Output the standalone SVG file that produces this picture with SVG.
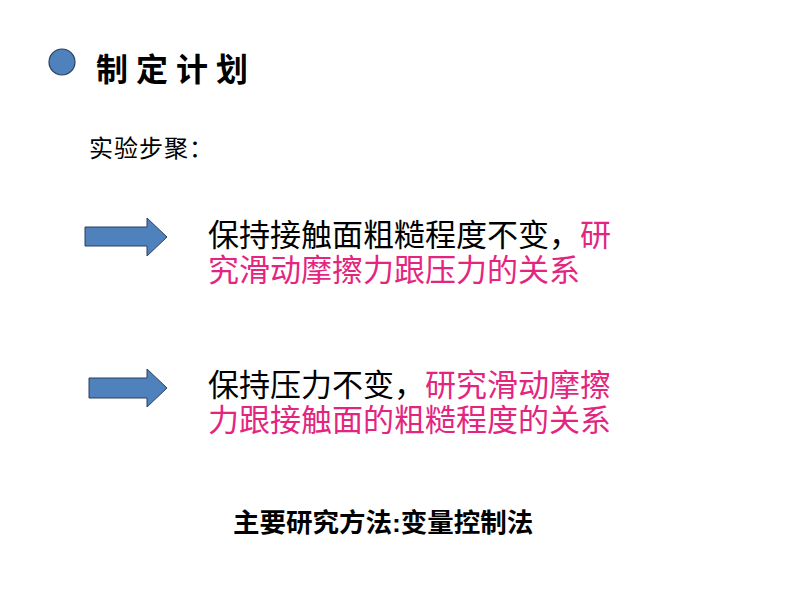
<svg xmlns="http://www.w3.org/2000/svg" width="800" height="600" viewBox="0 0 800 600">
<style>
.cjk{font-family:"Noto Sans CJK SC","Noto Sans",sans-serif;}
.body{font-size:31px;fill:#000;}
.pink{fill:#e4257f;}
.arrow{fill:#4f81bd;stroke:#2a3f5f;stroke-width:1;}
</style>
<rect width="800" height="600" fill="#fff"/>
<g id="title">
<circle cx="62" cy="62" r="13" fill="#4f81bd" stroke="#2a3f5f" stroke-width="1.2"/>
<text class="cjk" x="96" y="81" font-size="32" font-weight="bold" letter-spacing="8">制定计划</text>
</g>
<g id="steps-label">
<text class="cjk" x="89" y="157" font-size="24" letter-spacing="1">实验步聚：</text>
</g>
<g id="step1">
<polygon class="arrow" points="85,227 147,227 147,218 167,237 147,256 147,246 85,246"/>
<text class="cjk body" x="208" y="246">保持接触面粗糙程度不变，<tspan class="pink">研</tspan><tspan class="pink" x="208" dy="35">究滑动摩擦力跟压力的关系</tspan></text>
</g>
<g id="step2">
<polygon class="arrow" points="89,378 147,378 147,369 167,388 147,407 147,398 89,398"/>
<text class="cjk body" x="208" y="396">保持压力不变，<tspan class="pink">研究滑动摩擦</tspan><tspan class="pink" x="208" dy="35">力跟接触面的粗糙程度的关系</tspan></text>
</g>
<g id="method">
<text class="cjk" x="233" y="532" font-size="26.5" font-weight="bold">主要研究方法<tspan font-family="Liberation Sans">:</tspan>变量控制法</text>
</g>
</svg>
